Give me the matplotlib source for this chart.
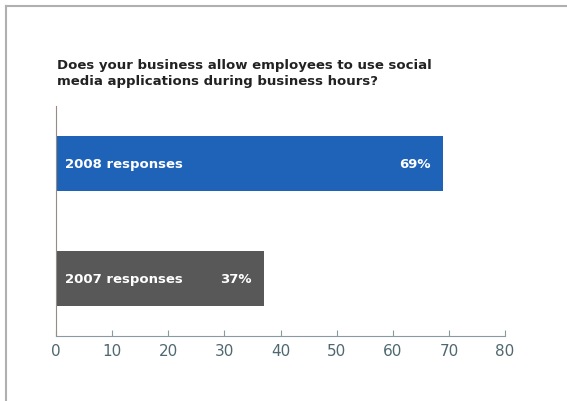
import matplotlib.pyplot as plt
from matplotlib.lines import Line2D

# dane
kategorie = ['2007 responses', '2008 responses']
wartosci = [37, 69]
kolory = ['#585858', '#1f63b9']
ticki = [0, 10, 20, 30, 40, 50, 60, 70, 80]
tytul = 'Does your business allow employees to use social\nmedia applications during business hours?'

fig = plt.figure(figsize=(5.67, 4.02), dpi=100)
ax = fig.add_axes([0.0988, 0.1617, 0.7919, 0.5721])

poz = list(range(len(kategorie)))
ax.barh(poz, wartosci, height=0.47, color=kolory)

for p, kat, w in zip(poz, kategorie, wartosci):
    ax.annotate(kat, (0, p), xytext=(6.5, 0), textcoords='offset points',
                va='center', ha='left', color='white', fontweight='bold', fontsize=9.5)
    ax.annotate(f'{w}%', (w, p), xytext=(-9, 0), textcoords='offset points',
                va='center', ha='right', color='white', fontweight='bold', fontsize=9.5)

ax.set_xlim(0, 80)
ax.set_ylim(-0.5, 1.5)
ax.set_xticks(ticki)
ax.set_yticks([])
ax.tick_params(axis='x', direction='in', length=4, color='#8a9aa0',
               labelcolor='#4f6870', labelsize=11, pad=5)
for s in ['top', 'right']:
    ax.spines[s].set_visible(False)
ax.spines['bottom'].set_color('#8a9aa0')
ax.spines['left'].set_color('#9a8a84')

fig.text(57 / 567, 1 - 59 / 402, tytul, ha='left', va='top',
         fontsize=9.5, fontweight='bold', color='#222222', linespacing=1.3)

# ramka obrazka
fig.add_artist(Line2D([6 / 567, 1], [1 - 7 / 402, 1 - 7 / 402], color='#b0b0b0', lw=1.5))
fig.add_artist(Line2D([6 / 567, 6 / 567], [0, 1 - 7 / 402], color='#b0b0b0', lw=1.5))

plt.savefig('out.png', dpi=100)
